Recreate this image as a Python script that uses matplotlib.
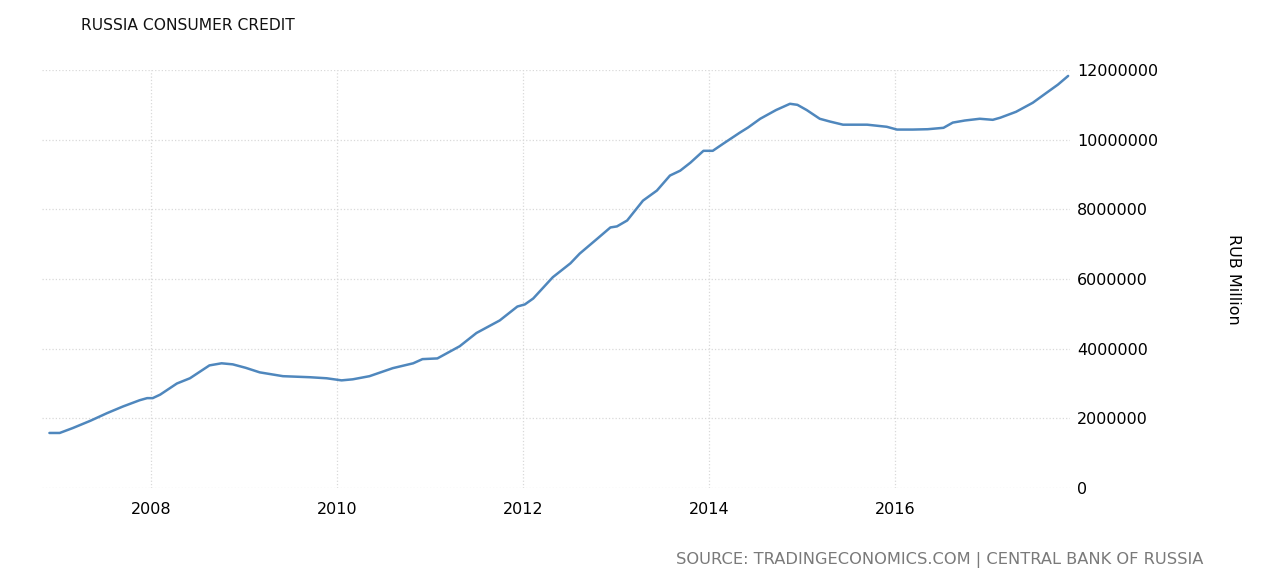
import matplotlib.pyplot as plt
import matplotlib.ticker as mticker

# Russia consumer credit, RUB million
years = [2006.91, 2007.02, 2007.16, 2007.35, 2007.53, 2007.70, 2007.88, 2007.96,
         2008.02, 2008.10, 2008.28, 2008.42, 2008.63, 2008.76, 2008.88, 2009.02,
         2009.17, 2009.42, 2009.71, 2009.89, 2010.05, 2010.17, 2010.35, 2010.60,
         2010.82, 2010.92, 2011.08, 2011.32, 2011.50, 2011.75, 2011.94, 2012.02,
         2012.11, 2012.32, 2012.51, 2012.61, 2012.80, 2012.94, 2013.01, 2013.12,
         2013.29, 2013.44, 2013.58, 2013.69, 2013.80, 2013.94, 2014.04, 2014.15,
         2014.33, 2014.42, 2014.55, 2014.72, 2014.87, 2014.95, 2015.05, 2015.19,
         2015.30, 2015.44, 2015.70, 2015.91, 2016.02, 2016.19, 2016.35, 2016.52,
         2016.62, 2016.75, 2016.91, 2017.05, 2017.13, 2017.30, 2017.48, 2017.63,
         2017.75, 2017.86]
credit_m = [1.58, 1.58, 1.72, 1.93, 2.15, 2.34, 2.52, 2.58,
            2.58, 2.68, 3.00, 3.15, 3.52, 3.58, 3.55, 3.45,
            3.32, 3.21, 3.18, 3.15, 3.09, 3.12, 3.21, 3.44,
            3.58, 3.70, 3.72, 4.07, 4.45, 4.81, 5.21, 5.27,
            5.44, 6.05, 6.45, 6.73, 7.16, 7.48, 7.51, 7.68,
            8.25, 8.54, 8.97, 9.11, 9.34, 9.68, 9.68, 9.88,
            10.20, 10.35, 10.60, 10.85, 11.03, 11.00, 10.85, 10.60,
            10.52, 10.43, 10.43, 10.37, 10.29, 10.29, 10.30, 10.34,
            10.49, 10.55, 10.60, 10.57, 10.63, 10.80, 11.06, 11.35,
            11.58, 11.83]
credit = [v * 1e6 for v in credit_m]

x_ticks = [2008, 2010, 2012, 2014, 2016]
y_ticks = [0, 2000000, 4000000, 6000000, 8000000, 10000000, 12000000]

fig = plt.figure(figsize=(12.78, 5.8), dpi=100)
ax = fig.add_axes([42 / 1278, 1 - 488 / 580, (1070 - 42) / 1278, (488 - 70) / 580])

ax.plot(years, credit, color='#4f87bd', linewidth=1.8,
        solid_joinstyle='round', solid_capstyle='round')

ax.set_xlim(2006.83, 2017.88)
ax.set_ylim(0, 12000000)
ax.set_xticks(x_ticks)
ax.set_yticks(y_ticks)
ax.yaxis.set_major_formatter(mticker.FuncFormatter(lambda v, p: f"{int(v)}"))
ax.yaxis.tick_right()
ax.tick_params(axis='both', length=0, labelsize=11.5, colors='black')
ax.tick_params(axis='x', pad=10)
ax.tick_params(axis='y', pad=5)
for lbl in ax.get_yticklabels():
    lbl.set_horizontalalignment('left')

ax.grid(True, color='#d9d9d9', linestyle=':', linewidth=0.9)
for spine in ax.spines.values():
    spine.set_visible(False)

ax.yaxis.set_label_position('right')
ax.set_ylabel("RUB Million", rotation=270, fontsize=11.5, labelpad=60)

fig.text(81 / 1278, 1 - 25 / 580, "RUSSIA CONSUMER CREDIT", fontsize=11.2,
         va='center', ha='left', color='#111111')
fig.text(1203 / 1278, 1 - 560 / 580,
         "SOURCE: TRADINGECONOMICS.COM | CENTRAL BANK OF RUSSIA",
         fontsize=11.7, va='center', ha='right', color='#7a7a7a')

plt.savefig("out.png", dpi=100)
